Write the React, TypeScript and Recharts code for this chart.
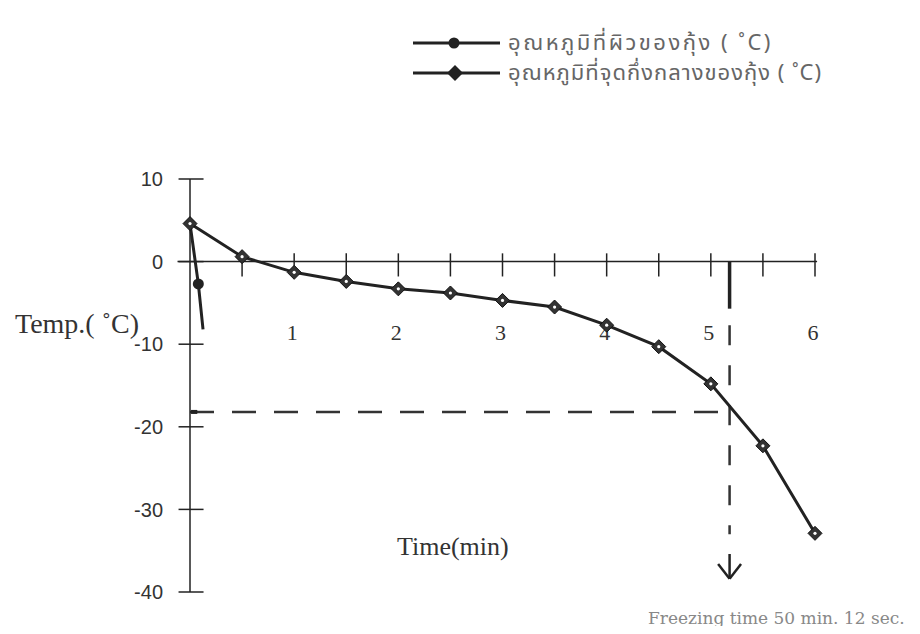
import React from 'react';
import { LineChart, Line, XAxis, YAxis, ReferenceLine, ReferenceDot } from 'recharts';

// time in units of 10 min (axis labels 1..6), temperature in °C
const centreTimes = [0, 0.5, 1, 1.5, 2, 2.5, 3, 3.5, 4, 4.5, 5, 5.5, 6];
const centreTemps = [4.6, 0.6, -1.3, -2.4, -3.3, -3.8, -4.7, -5.5, -7.7, -10.3, -14.8, -22.3, -32.9];
const surfaceTimes = [0, 0.08, 0.125];
const surfaceTemps = [4.6, -2.7, -8.2];

const xTicks = [0.5, 1, 1.5, 2, 2.5, 3, 3.5, 4, 4.5, 5, 5.5, 6];
const xLabels = [1, 2, 3, 4, 5, 6];
const yTicks = [10, 0, -10, -20, -30, -40];

const freezeTemp = -18.2;
const freezeTime = 5.18;

const surfaceName = 'อุณหภูมิที่ผิวของกุ้ง ( ˚C)';
const centreName = 'อุณหภูมิที่จุดกึ่งกลางของกุ้ง ( ˚C)';

const centreData = centreTimes.map((t, i) => ({ t, v: centreTemps[i] }));
const surfaceData = surfaceTimes.map((t, i) => ({ t, v: surfaceTemps[i] }));

const INK = '#222';
const serif = "'Liberation Serif', 'Times New Roman', serif";
const thai = "'Noto Sans Thai', 'Loma', 'Garuda', 'Noto Sans', sans-serif";

const Diamond = ({ cx, cy }: any) => {
  if (cx == null || cy == null) return null;
  const s = 7;
  return (
    <g>
      <polygon
        points={`${cx},${cy - s} ${cx + s},${cy} ${cx},${cy + s} ${cx - s},${cy}`}
        fill="#333"
        stroke="#111"
        strokeWidth={1}
      />
      <circle cx={cx} cy={cy} r={1.6} fill="#fff" />
    </g>
  );
};

const SurfaceDot = ({ cx, cy, index }: any) => {
  if (index !== 1 || cx == null) return null;
  return <circle cx={cx} cy={cy} r={5.5} fill="#222" />;
};

const seg = (x1: number, y1: number, x2: number, y2: number) => [
  { x: x1, y: y1 },
  { x: x2, y: y2 },
];

export default function App() {
  return (
    <div style={{ position: 'relative', width: 904, height: 618, background: '#fff' }}>
      <LineChart
        width={904}
        height={618}
        margin={{ top: 171, right: 97, left: 122, bottom: 34 }}
      >
        <XAxis dataKey="t" type="number" domain={[0, 6]} hide allowDuplicatedCategory={false} />
        <YAxis
          type="number"
          domain={[-40, 10]}
          ticks={yTicks}
          width={60}
          axisLine={{ stroke: INK, strokeWidth: 1.5 }}
          tickLine={false}
          tickSize={0}
          tickMargin={27}
          tick={{ fill: '#333', fontSize: 20, fontFamily: "'Liberation Sans', Arial, sans-serif" }}
        />

        {/* x axis drawn through zero */}
        <ReferenceLine
          segment={seg(-0.12, 0, 6.02, 0)}
          stroke={INK}
          strokeWidth={1.5}
          ifOverflow="visible"
        />
        {xTicks.map((t) => (
          <ReferenceLine
            key={`xt${t}`}
            segment={seg(t, 1.0, t, -1.8)}
            stroke={INK}
            strokeWidth={1.5}
            ifOverflow="visible"
          />
        ))}
        {yTicks.map((v) => (
          <ReferenceLine
            key={`yt${v}`}
            segment={seg(-0.11, v, 0.13, v)}
            stroke={INK}
            strokeWidth={1.5}
            ifOverflow="visible"
          />
        ))}
        {xLabels.map((t) => (
          <ReferenceDot
            key={`xl${t}`}
            x={t}
            y={-8.6}
            r={1}
            ifOverflow="visible"
            shape={(p: any) => (
              <text
                x={p.cx - 2}
                y={p.cy}
                textAnchor="middle"
                dominantBaseline="central"
                fontSize={22}
                fontFamily={serif}
                fill="#333"
              >
                {t}
              </text>
            )}
          />
        ))}

        {/* freezing point guides */}
        <ReferenceLine
          segment={seg(0, freezeTemp, freezeTime, freezeTemp)}
          stroke="#333"
          strokeWidth={2.5}
          strokeDasharray="24 18"
          ifOverflow="visible"
        />
        <ReferenceLine
          segment={seg(0.01, freezeTemp, 0.07, freezeTemp)}
          stroke="#222"
          strokeWidth={4}
          ifOverflow="visible"
        />
        <ReferenceLine
          segment={seg(freezeTime, 0, freezeTime, -5.7)}
          stroke="#222"
          strokeWidth={3.5}
          ifOverflow="visible"
        />
        <ReferenceLine
          segment={seg(freezeTime, -7.7, freezeTime, -33)}
          stroke="#333"
          strokeWidth={2.5}
          strokeDasharray="20 20"
          ifOverflow="visible"
        />
        <ReferenceLine
          segment={seg(freezeTime, -35.4, freezeTime, -38.4)}
          stroke="#222"
          strokeWidth={2.5}
          ifOverflow="visible"
        />
        <ReferenceLine
          segment={seg(freezeTime - 0.11, -36.6, freezeTime, -38.4)}
          stroke="#222"
          strokeWidth={2.5}
          ifOverflow="visible"
        />
        <ReferenceLine
          segment={seg(freezeTime + 0.11, -36.6, freezeTime, -38.4)}
          stroke="#222"
          strokeWidth={2.5}
          ifOverflow="visible"
        />

        <Line
          data={surfaceData}
          dataKey="v"
          type="linear"
          stroke={INK}
          strokeWidth={3}
          dot={<SurfaceDot />}
          activeDot={false}
          isAnimationActive={false}
        />
        <Line
          data={centreData}
          dataKey="v"
          type="linear"
          stroke={INK}
          strokeWidth={3}
          dot={<Diamond />}
          activeDot={false}
          isAnimationActive={false}
        />
      </LineChart>

      {/* legend */}
      <div
        style={{
          position: 'absolute',
          left: 405,
          top: 20,
          fontFamily: thai,
          color: '#666',
          fontSize: 22,
          whiteSpace: 'nowrap',
        }}
      >
        <div style={{ display: 'flex', alignItems: 'center', height: 30, letterSpacing: 2.5 }}>
          <svg width={95} height={16}>
            <line x1={0} y1={8} x2={87} y2={8} stroke={INK} strokeWidth={3} />
            <circle cx={41} cy={8} r={5.5} fill={INK} />
          </svg>
          <span>{surfaceName}</span>
        </div>
        <div style={{ display: 'flex', alignItems: 'center', height: 30, letterSpacing: 1 }}>
          <svg width={95} height={18}>
            <line x1={0} y1={9} x2={87} y2={9} stroke={INK} strokeWidth={3} />
            <polygon points="42,1 50,9 42,17 34,9" fill={INK} />
          </svg>
          <span>{centreName}</span>
        </div>
      </div>

      <div
        style={{
          position: 'absolute',
          left: 7,
          top: 300,
          fontFamily: serif,
          fontSize: 28,
          color: '#333',
          whiteSpace: 'nowrap',
        }}
      >
        Temp.( ˚C)
      </div>
      <div
        style={{
          position: 'absolute',
          left: 389,
          top: 524,
          fontFamily: serif,
          fontSize: 26,
          color: '#333',
          whiteSpace: 'nowrap',
        }}
      >
        Time(min)
      </div>
      <div
        style={{
          position: 'absolute',
          left: 640,
          top: 600,
          fontFamily: "'DejaVu Serif', serif",
          fontSize: 17,
          color: '#888',
          whiteSpace: 'nowrap',
        }}
      >
        Freezing time 50 min. 12 sec.
      </div>
    </div>
  );
}
